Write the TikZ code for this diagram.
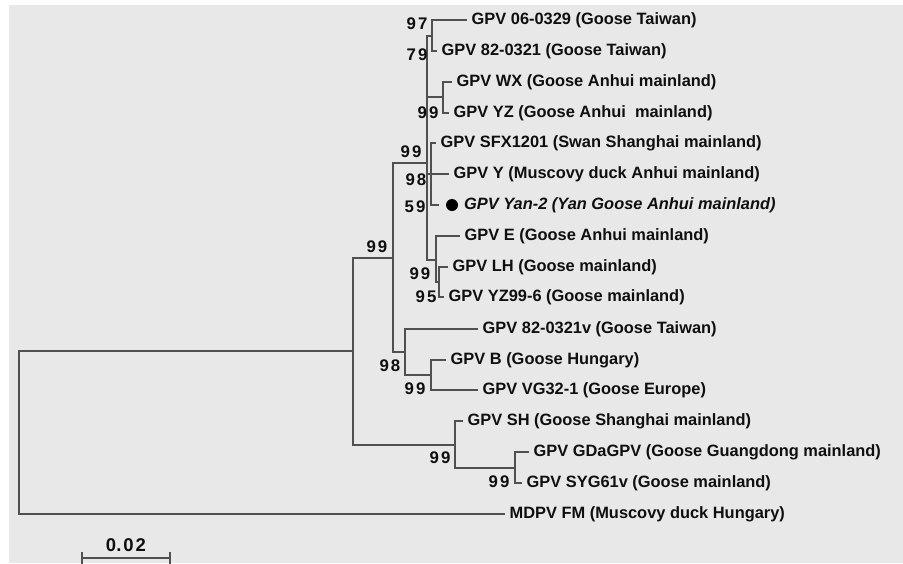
\documentclass[tikz,border=0pt]{standalone}
\usepackage{fontspec}
\setmainfont{Liberation Sans}
\definecolor{bgc}{RGB}{232,232,232}
\definecolor{linec}{RGB}{80,80,80}
\definecolor{txtc}{RGB}{15,15,15}
\begin{document}
\begin{tikzpicture}[x=1pt,y=-1pt,
  br/.style={draw=linec,line width=1.6pt},
  leaf/.style={anchor=west,inner xsep=4.5pt,inner ysep=0pt,text=txtc,font=\fontsize{16.4}{19}\selectfont\bfseries},
  bs/.style={inner sep=0pt,text=txtc,font=\fontsize{16.8}{19}\selectfont\bfseries},
  tree/.style={br}]
\useasboundingbox (0,0) rectangle (903,563);
\fill[white] (0,0) rectangle (903,563);
\fill[bgc] (9,5) rectangle (903,563);
% leaves
\node[leaf] (l1) at (467,20) {GPV 06-0329 (Goose Taiwan)};
\node[leaf] (l2) at (437,51) {GPV 82-0321 (Goose Taiwan)};
\node[leaf] (l3) at (452,82) {GPV WX (Goose Anhui mainland)};
\node[leaf] (l4) at (449,113) {GPV YZ (Goose Anhui~ mainland)};
\node[leaf] (l5) at (436,143) {GPV SFX1201 (Swan Shanghai mainland)};
\node[leaf] (l6) at (449,174) {GPV Y (Muscovy duck Anhui mainland)};
\node[circle,fill=black,inner sep=0pt,minimum size=12pt] (l7) at (452,205) {};
\node[leaf,font=\fontsize{16.4}{19}\selectfont\bfseries\itshape,inner xsep=0pt] (t7) at (464,205) {GPV Yan-2 (Yan Goose Anhui mainland)};
\node[leaf] (l8) at (460,236) {GPV E (Goose Anhui mainland)};
\node[leaf] (l9) at (448,267) {GPV LH (Goose mainland)};
\node[leaf] (l10) at (444,297) {GPV YZ99-6 (Goose mainland)};
\node[leaf] (l11) at (478,329) {GPV 82-0321v (Goose Taiwan)};
\node[leaf] (l12) at (446,360) {GPV B (Goose Hungary)};
\node[leaf] (l13) at (478,390) {GPV VG32-1 (Goose Europe)};
\node[leaf] (l14) at (463,421) {GPV SH (Goose Shanghai mainland)};
\node[leaf] (l15) at (529,452) {GPV GDaGPV (Goose Guangdong mainland)};
\node[leaf] (l16) at (522,483) {GPV SYG61v (Goose mainland)};
\node[leaf] (l17) at (505,514) {MDPV FM (Muscovy duck Hungary)};
% internal nodes
\coordinate (n12) at (432,36);
\coordinate (nWY) at (443,97);
\coordinate (nS) at (431,174);
\coordinate (nLH) at (439,282);
\coordinate (nE) at (436,260);
\coordinate (A) at (427,163);
\coordinate (nBV) at (431,375);
\coordinate (C) at (405,352);
\coordinate (B1) at (393,258);
\coordinate (nGS) at (515,468);
\coordinate (nSH) at (455,445);
\coordinate (D) at (353,351);
\coordinate (R) at (19,432);
% branches
\draw[tree] (n12) |- (l1.west);
\draw[tree] (n12) |- (l2.west);
\draw[tree] (nWY) |- (l3.west);
\draw[tree] (nWY) |- (l4.west);
\draw[tree] (nS) |- (l5.west);
\draw[tree] (nS) -- (l6.west);
\draw[tree,shorten >=7pt] (nS) |- (l7.west);
\draw[tree] (nLH) |- (l9.west);
\draw[tree] (nLH) |- (l10.west);
\draw[tree] (nE) |- (l8.west);
\draw[tree] (nE) |- (nLH);
\draw[tree] (A) |- (n12);
\draw[tree] (A) |- (nWY);
\draw[tree] (A) |- (nS);
\draw[tree] (A) |- (nE);
\draw[tree] (nBV) |- (l12.west);
\draw[tree] (nBV) |- (l13.west);
\draw[tree] (C) |- (l11.west);
\draw[tree] (C) |- (nBV);
\draw[tree] (B1) |- (A);
\draw[tree] (B1) |- (C);
\draw[tree] (nGS) |- (l15.west);
\draw[tree] (nGS) |- (l16.west);
\draw[tree] (nSH) |- (l14.west);
\draw[tree] (nSH) |- (nGS);
\draw[tree] (D) |- (B1);
\draw[tree] (D) |- (nSH);
\draw[tree] (R) |- (D);
\draw[tree] (R) |- (l17.west);
% bootstrap values
\node[bs] (b1) at (417,24) {9\kern2pt7};
\node[bs] (b2) at (417,55) {7\kern2pt9};
\node[bs] (b3) at (428,113) {9\kern2pt9};
\node[bs] (b4) at (411,152) {9\kern2pt9};
\node[bs] (b5) at (416,180) {9\kern2pt8};
\node[bs] (b6) at (415,207) {5\kern2pt9};
\node[bs] (b7) at (377,247) {9\kern2pt9};
\node[bs] (b8) at (420,274) {9\kern2pt9};
\node[bs] (b9) at (426,297) {9\kern2pt5};
\node[bs] (b10) at (390,366) {9\kern2pt8};
\node[bs] (b11) at (415,389) {9\kern2pt9};
\node[bs] (b12) at (440,458) {9\kern2pt9};
\node[bs] (b13) at (499,482) {9\kern2pt9};
% scale bar
\coordinate (s1) at (82,558);
\coordinate (s2) at (170,558);
\draw[br] (s1) -- (s2);
\draw[br] ([yshift=-6pt]s1) -- ([yshift=6pt]s1);
\draw[br] ([yshift=-6pt]s2) -- ([yshift=6pt]s2);
\node[bs,font=\fontsize{18.5}{20}\selectfont\bfseries] (sc) at (126,545) {0.\kern2pt0\kern2pt2};
\end{tikzpicture}
\end{document}
